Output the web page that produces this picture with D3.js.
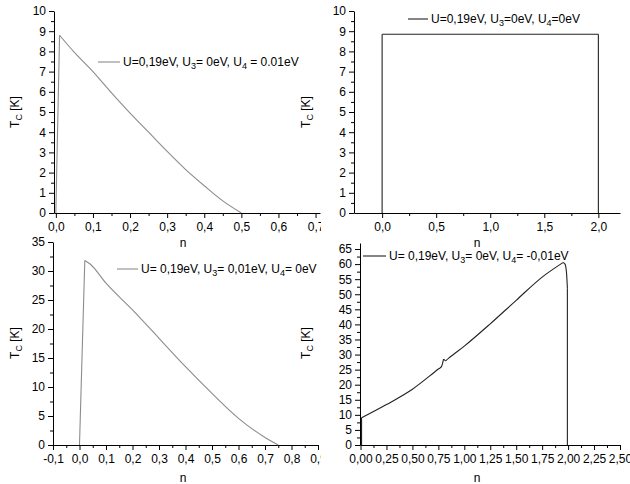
<!DOCTYPE html>
<html>
<head>
<meta charset="utf-8">
<script src="https://cdn.jsdelivr.net/npm/d3@7"></script>
<style>
  body { margin: 0; background: #fff; }
  svg { display: block; }
  text { font-family: "Liberation Sans", Arial, sans-serif; }
</style>
</head>
<body>
<svg id="chart" width="630" height="484"></svg>
<script>
// panel A: U3 = 0, U4 = 0.01
const nA = [0, 0.01, 0.05, 0.1, 0.15, 0.2, 0.25, 0.3, 0.35, 0.4, 0.45, 0.5];
const tcA = [0, 8.8, 7.95, 7.0, 5.95, 4.95, 4.0, 3.05, 2.15, 1.35, 0.6, 0];

// panel B: U3 = 0, U4 = 0
const nB = [0, 0, 2, 2];
const tcB = [0, 8.85, 8.85, 0];

// panel C: U3 = 0.01, U4 = 0
const nC = [0, 0.02, 0.04, 0.1, 0.2, 0.3, 0.4, 0.5, 0.6, 0.7, 0.75];
const tcC = [0, 31.8, 31.2, 27.9, 23.3, 18.4, 13.5, 8.9, 4.6, 1.3, 0];

// panel D: U3 = 0, U4 = -0.01
const nD = [0.01, 0.01, 0.25, 0.5, 0.75, 0.78, 0.8, 0.82, 0.85, 1.0, 1.25, 1.5, 1.75, 1.95, 1.97, 1.985, 1.993, 1.993];
const tcD = [0, 9, 13.4, 18.5, 25.2, 26.0, 28.5, 27.9, 28.8, 32.8, 40.2, 48, 55.7, 60.5, 60, 57, 52, 0];

const legendLabels = [
  'U=0,19eV, U_3= 0eV, U_4 = 0.01eV',
  'U=0,19eV, U_3=0eV, U_4=0eV',
  'U= 0,19eV, U_3= 0,01eV, U_4= 0eV',
  'U= 0,19eV, U_3= 0eV, U_4= -0,01eV'
];

const xTicksA = [0, 0.1, 0.2, 0.3, 0.4, 0.5, 0.6, 0.7];
const xTicksB = [0, 0.5, 1, 1.5, 2];
const xTicksC = [-0.1, 0, 0.1, 0.2, 0.3, 0.4, 0.5, 0.6, 0.7, 0.8, 0.9];
const xTicksD = [0, 0.25, 0.5, 0.75, 1, 1.25, 1.5, 1.75, 2, 2.25, 2.5];
const yTicksAB = [0, 1, 2, 3, 4, 5, 6, 7, 8, 9, 10];
const yTicksC = [0, 5, 10, 15, 20, 25, 30, 35];
const yTicksD = [0, 5, 10, 15, 20, 25, 30, 35, 40, 45, 50, 55, 60, 65];

const svg = d3.select('#chart');

svg.append('defs').append('clipPath')
  .attr('id', 'clip-left')
  .append('rect')
  .attr('x', 0).attr('y', 0)
  .attr('width', 321).attr('height', 484);

const panels = [
  { n: nA, tc: tcA, label: legendLabels[0], xTicks: xTicksA, yTicks: yTicksAB, xDigits: 1,
    xDomain: [-0.005, 0.712], xRange: [54, 320], yDomain: [0, 10], yRange: [213, 11],
    color: '#8c8c8c', clip: true, legend: [98, 120, 62], xTitle: [183, 243], yTitle: [15, 112] },
  { n: nB, tc: tcB, label: legendLabels[1], xTicks: xTicksB, yTicks: yTicksAB, xDigits: 1,
    xDomain: [-0.26, 2.2], xRange: [354, 620], yDomain: [0, 10], yRange: [213, 11],
    color: '#222', clip: false, legend: [408, 428, 19], xTitle: [477, 243], yTitle: [306, 112] },
  { n: nC, tc: tcC, label: legendLabels[2], xTicks: xTicksC, yTicks: yTicksC, xDigits: 1,
    xDomain: [-0.1, 0.9], xRange: [53, 318], yDomain: [0, 35], yRange: [445, 242],
    color: '#8c8c8c', clip: true, legend: [117, 138, 269], xTitle: [183, 478], yTitle: [15, 343] },
  { n: nD, tc: tcD, label: legendLabels[3], xTicks: xTicksD, yTicks: yTicksD, xDigits: 2,
    xDomain: [-0.005, 2.5], xRange: [360, 620], yDomain: [0, 67], yRange: [445, 243],
    color: '#222', clip: false, legend: [363, 386, 256], xTitle: [477, 478], yTitle: [306, 343] }
];

// writes "U_3" style strings as text with subscripts
const writeRich = (textSel, str, subSize) => {
  const parts = str.split(/_(\w)/);
  parts.forEach((part, i) => {
    if (part === '') return;
    if (i % 2 === 1) {
      textSel.append('tspan').attr('font-size', subSize).attr('dy', 3).text(part);
    } else {
      textSel.append('tspan').attr('dy', i === 0 ? 0 : -3).text(part);
    }
  });
};

// split a polyline into runs that are monotone in x and y, so that
// corners (peaks, vertical edges) stay sharp and the rest is smoothed
const splitRuns = points => {
  const runs = [];
  let run = [points[0]];
  for (let i = 1; i < points.length; i++) {
    const prev = points[i - 1];
    const cur = points[i];
    const next = points[i + 1];
    run.push(cur);
    const vertical = next && next[0] === cur[0];
    const wasVertical = prev[0] === cur[0];
    const turn = next && (cur[1] - prev[1]) * (next[1] - cur[1]) < 0;
    if (next && (vertical || wasVertical || turn)) {
      runs.push(run);
      run = [cur];
    }
  }
  if (run.length > 1) runs.push(run);
  return runs;
};

const midpoints = ticks => ticks.slice(0, -1).map((t, i) => (t + ticks[i + 1]) / 2);

const drawPanel = (p) => {
  const g = svg.append('g').attr('clip-path', p.clip ? 'url(#clip-left)' : null);

  const scaleX = d3.scaleLinear().domain(p.xDomain).range(p.xRange);
  const scaleY = d3.scaleLinear().domain(p.yDomain).range(p.yRange);

  const fmtX = d => d.toFixed(p.xDigits).replace('.', ',');

  // minor ticks
  const minorX = midpoints(p.xTicks).concat([p.xTicks[p.xTicks.length - 1] + (p.xTicks[1] - p.xTicks[0]) / 2])
    .filter(v => v >= p.xDomain[0] && v <= p.xDomain[1]);
  const minorY = midpoints(p.yTicks).filter(v => v <= p.yDomain[1]);

  g.append('g')
    .attr('transform', `translate(0,${p.yRange[0]})`)
    .call(d3.axisBottom(scaleX).tickValues(minorX).tickSize(3).tickFormat(''))
    .call(s => s.select('.domain').remove());

  g.append('g')
    .attr('transform', `translate(${p.xRange[0]},0)`)
    .call(d3.axisLeft(scaleY).tickValues(minorY).tickSize(3).tickFormat(''))
    .call(s => s.select('.domain').remove());

  const axisX = g.append('g')
    .attr('transform', `translate(0,${p.yRange[0]})`)
    .call(d3.axisBottom(scaleX).tickValues(p.xTicks.filter(v => v >= p.xDomain[0]))
      .tickSize(5).tickSizeOuter(0).tickPadding(4).tickFormat(fmtX));

  const axisY = g.append('g')
    .attr('transform', `translate(${p.xRange[0]},0)`)
    .call(d3.axisLeft(scaleY).tickValues(p.yTicks)
      .tickSize(5).tickSizeOuter(0).tickPadding(3).tickFormat(d3.format('d')));

  [axisX, axisY].forEach(a => {
    a.selectAll('text').attr('font-size', 12).attr('fill', '#000')
      .attr('font-family', '"Liberation Sans", Arial, sans-serif');
    a.selectAll('line, path').attr('stroke', '#000');
  });

  // curve
  const points = p.n.map((v, i) => [v, p.tc[i]]);
  const line = d3.line()
    .x(d => scaleX(d[0]))
    .y(d => scaleY(d[1]))
    .curve(d3.curveMonotoneX);

  g.selectAll('path.curve')
    .data(splitRuns(points))
    .enter()
    .append('path')
    .attr('class', 'curve')
    .attr('d', run => (run[0][0] === run[run.length - 1][0]
      ? d3.line().x(d => scaleX(d[0])).y(d => scaleY(d[1]))(run)
      : line(run)))
    .attr('fill', 'none')
    .attr('stroke', p.color)
    .attr('stroke-width', 1.1)
    .attr('stroke-linejoin', 'round');

  // legend
  g.append('line')
    .attr('x1', p.legend[0]).attr('x2', p.legend[1])
    .attr('y1', p.legend[2]).attr('y2', p.legend[2])
    .attr('stroke', p.color).attr('stroke-width', 1.1);

  const legendText = g.append('text')
    .attr('x', p.legend[1] + 3)
    .attr('y', p.legend[2] + 4)
    .attr('font-size', 12)
    .attr('fill', '#000');
  writeRich(legendText, p.label, 9);

  // axis titles
  g.append('text')
    .attr('x', p.xTitle[0]).attr('y', p.xTitle[1] + 4)
    .attr('text-anchor', 'middle')
    .attr('font-size', 12)
    .text('n');

  const yTitle = g.append('text')
    .attr('transform', `translate(${p.yTitle[0] + 4},${p.yTitle[1]}) rotate(-90)`)
    .attr('text-anchor', 'middle')
    .attr('font-size', 12);
  writeRich(yTitle, 'T_C [K]', 9);
};

panels.forEach(drawPanel);
</script>
</body>
</html>
